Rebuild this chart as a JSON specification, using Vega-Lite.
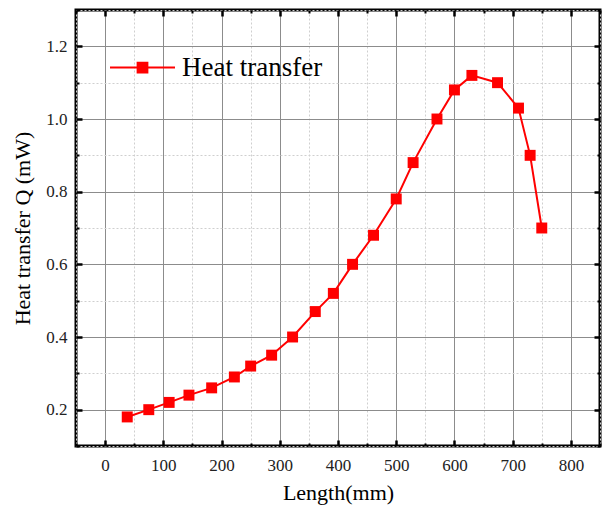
{
  "$schema": "https://vega.github.io/schema/vega-lite/v6.json",
  "width": 524,
  "height": 436,
  "autosize": "none",
  "padding": {"left": 76, "top": 10, "right": 7, "bottom": 61},
  "background": "white",
  "config": {
    "font": "Liberation Serif",
    "view": {"stroke": "black", "strokeWidth": 3}
  },
  "data": {
    "values": [
      {"length": 38, "q": 0.18},
      {"length": 75, "q": 0.20},
      {"length": 110, "q": 0.22},
      {"length": 144, "q": 0.24},
      {"length": 183, "q": 0.26},
      {"length": 222, "q": 0.29},
      {"length": 250, "q": 0.32},
      {"length": 286, "q": 0.35},
      {"length": 322, "q": 0.40},
      {"length": 361, "q": 0.47},
      {"length": 392, "q": 0.52},
      {"length": 425, "q": 0.60},
      {"length": 461, "q": 0.68},
      {"length": 500, "q": 0.78},
      {"length": 529, "q": 0.88},
      {"length": 570, "q": 1.00},
      {"length": 600, "q": 1.08},
      {"length": 630, "q": 1.12},
      {"length": 674, "q": 1.10},
      {"length": 710, "q": 1.03},
      {"length": 730, "q": 0.90},
      {"length": 750, "q": 0.70}
    ]
  },
  "layer": [
    {
      "mark": {
        "type": "line",
        "strokeWidth": 2,
        "point": {"shape": "square", "size": 120, "filled": true, "opacity": 1, "color": "#ff0000"}
      },
      "encoding": {
        "x": {
          "field": "length",
          "type": "quantitative",
          "scale": {"domain": [-50, 850], "nice": false, "zero": false},
          "axis": {
            "orient": "bottom",
            "values": [-50, 0, 50, 100, 150, 200, 250, 300, 350, 400, 450, 500, 550, 600, 650, 700, 750, 800, 850],
            "domain": false,
            "grid": true,
            "gridColor": {"condition": {"test": "datum.value % 100 !== 0", "value": "#cfcfcf"}, "value": "#8c8c8c"},
            "gridDash": {"condition": {"test": "datum.value % 100 !== 0", "value": [2, 2]}, "value": []},
            "gridWidth": 1,
            "ticks": true,
            "tickColor": "black",
            "tickSize": -6,
            "tickWidth": {"condition": {"test": "datum.value % 100 !== 0", "value": 2}, "value": 2.5},
            "tickDash": {"condition": {"test": "datum.value % 100 !== 0", "value": [3, 20]}, "value": []},
            "labelExpr": "datum.value % 100 === 0 && datum.value >= 0 && datum.value <= 800 ? datum.label : ''",
            "labelFont": "Liberation Serif",
            "labelFontSize": 17,
            "labelColor": "#222222",
            "labelPadding": 17,
            "title": "Length(mm)",
            "titleFont": "Liberation Serif",
            "titleFontSize": 22,
            "titleFontWeight": "normal",
            "titleColor": "black",
            "titlePadding": 9
          }
        },
        "y": {
          "field": "q",
          "type": "quantitative",
          "scale": {"domain": [0.1, 1.3], "nice": false, "zero": false},
          "axis": {
            "orient": "left",
            "values": [0.1, 0.2, 0.3, 0.4, 0.5, 0.6, 0.7, 0.8, 0.9, 1.0, 1.1, 1.2, 1.3],
            "domain": false,
            "grid": true,
            "gridColor": {"condition": {"test": "round(datum.value * 10) % 2 !== 0", "value": "#cfcfcf"}, "value": "#8c8c8c"},
            "gridDash": {"condition": {"test": "round(datum.value * 10) % 2 !== 0", "value": [2, 2]}, "value": []},
            "gridWidth": 1,
            "ticks": true,
            "tickColor": "black",
            "tickSize": -6,
            "tickWidth": {"condition": {"test": "round(datum.value * 10) % 2 !== 0", "value": 2}, "value": 2.5},
            "tickDash": {"condition": {"test": "round(datum.value * 10) % 2 !== 0", "value": [3, 20]}, "value": []},
            "format": ".1f",
            "labelExpr": "round(datum.value * 10) % 2 === 0 && datum.value > 0.15 && datum.value < 1.25 ? datum.label : ''",
            "labelFont": "Liberation Serif",
            "labelFontSize": 17,
            "labelColor": "#222222",
            "labelPadding": 15,
            "title": "Heat transfer Q (mW)",
            "titleFont": "Liberation Serif",
            "titleFontSize": 22,
            "titleFontWeight": "normal",
            "titleColor": "black",
            "titlePadding": 11
          }
        },
        "color": {
          "datum": "Heat transfer",
          "scale": {"range": ["#ff0000"]},
          "legend": {
            "orient": "none",
            "legendX": 33,
            "legendY": 24,
            "title": null,
            "padding": 0,
            "symbolType": "M-1,0H1M-0.15,-0.15H0.15V0.15H-0.15Z",
            "symbolSize": 4225,
            "symbolStrokeWidth": 2,
            "symbolStrokeColor": "#ff0000",
            "symbolFillColor": "#ff0000",
            "labelFont": "Liberation Serif",
            "labelFontSize": 27,
            "labelColor": "black",
            "labelOffset": 6
          }
        }
      }
    },
    {
      "mark": {"type": "point", "opacity": 0},
      "encoding": {
        "x": {
          "field": "length",
          "type": "quantitative",
          "scale": {"domain": [-50, 850], "nice": false, "zero": false},
          "axis": {
            "orient": "top",
            "values": [-50, 0, 50, 100, 150, 200, 250, 300, 350, 400, 450, 500, 550, 600, 650, 700, 750, 800, 850],
            "domain": false,
            "grid": false,
            "labels": false,
            "title": null,
            "ticks": true,
            "tickColor": "black",
            "tickSize": -6,
            "tickWidth": {"condition": {"test": "datum.value % 100 !== 0", "value": 2}, "value": 2.5},
            "tickDash": {"condition": {"test": "datum.value % 100 !== 0", "value": [3, 20]}, "value": []}
          }
        },
        "y": {
          "field": "q",
          "type": "quantitative",
          "scale": {"domain": [0.1, 1.3], "nice": false, "zero": false},
          "axis": {
            "orient": "right",
            "values": [0.1, 0.2, 0.3, 0.4, 0.5, 0.6, 0.7, 0.8, 0.9, 1.0, 1.1, 1.2, 1.3],
            "domain": false,
            "grid": false,
            "labels": false,
            "title": null,
            "ticks": true,
            "tickColor": "black",
            "tickSize": -6,
            "tickWidth": {"condition": {"test": "round(datum.value * 10) % 2 !== 0", "value": 2}, "value": 2.5},
            "tickDash": {"condition": {"test": "round(datum.value * 10) % 2 !== 0", "value": [3, 20]}, "value": []}
          }
        }
      }
    }
  ],
  "resolve": {"axis": {"x": "independent", "y": "independent"}}
}
